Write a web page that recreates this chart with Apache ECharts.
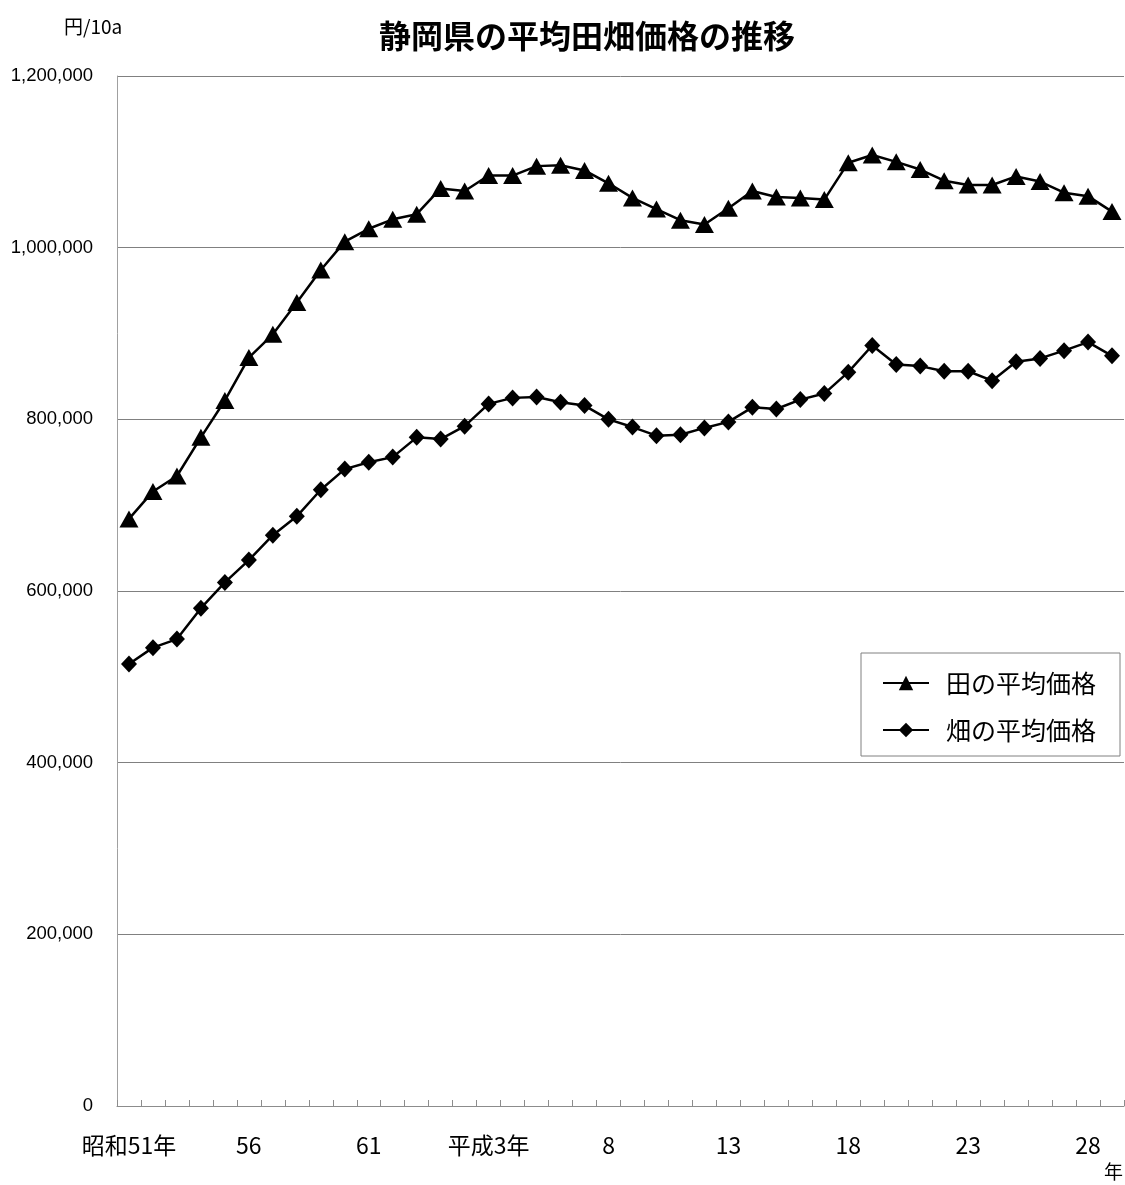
<!DOCTYPE html>
<html>
<head>
<meta charset="utf-8">
<script src="https://cdn.jsdelivr.net/npm/echarts@6/dist/echarts.min.js"></script>
<style>
html,body{margin:0;padding:0;background:#fff;}
#chart{width:1125px;height:1185px;}
</style>
</head>
<body>
<div id="chart"></div>
<script>
const categories = ['昭和51年','52','53','54','55','56','57','58','59','60','61','62','63','平成元年','2','平成3年','4','5','6','7','8','9','10','11','12','13','14','15','16','17','18','19','20','21','22','23','24','25','26','27','28','29'];
const paddyPrice = [684000,716000,734000,779000,822000,872000,899000,936000,974000,1007000,1022000,1033000,1039000,1069000,1066000,1084000,1084000,1095000,1096000,1090000,1075000,1058000,1045000,1032000,1027000,1046000,1066000,1059000,1058000,1056000,1099000,1108000,1100000,1091000,1078000,1073000,1073000,1083000,1077000,1064000,1060000,1042000];
const fieldPrice = [515000,534000,544000,580000,610000,636000,665000,687000,718000,742000,750000,756000,779000,777000,792000,818000,825000,826000,820000,816000,800000,791000,781000,782000,790000,797000,814000,812000,823000,830000,855000,886000,864000,862000,856000,856000,845000,867000,871000,880000,890000,874000];
const yTicks = {min:0, max:1200000, interval:200000};
const FONT = '"Noto Sans CJK JP", "Noto Sans", sans-serif';

const chart = echarts.init(document.getElementById('chart'));
chart.setOption({
  animation:false,
  backgroundColor:'#fff',
  title:{
    text:'静岡県の平均田畑価格の推移',
    left:374, top:15,
    textStyle:{fontFamily:FONT, fontSize:32, fontWeight:'bold', color:'#000'}
  },
  graphic:[
    {type:'text', left:64, top:17, style:{text:'円/10a', font:'19px '+FONT, fill:'#000'}},
    {type:'text', left:1104, top:1162, style:{text:'年', font:'19px '+FONT, fill:'#000'}}
  ],
  legend:{
    orient:'vertical',
    left:861, top:653,
    padding:[16,24,12,21],
    itemGap:19,
    itemWidth:46, itemHeight:18,
    borderColor:'#808080', borderWidth:1,
    backgroundColor:'#fff',
    textStyle:{fontFamily:FONT, fontSize:25, color:'#000', lineHeight:28, padding:[0,0,0,12]},
    data:['田の平均価格','畑の平均価格']
  },
  grid:{left:117, right:1, top:76, bottom:79, containLabel:false},
  xAxis:{
    type:'category',
    data:categories,
    boundaryGap:true,
    axisLine:{lineStyle:{color:'#8c8c8c', width:1}},
    axisTick:{show:true, inside:true, length:6, interval:0, lineStyle:{color:'#8c8c8c'}},
    axisLabel:{interval:4, margin:28, fontFamily:FONT, fontSize:23, color:'#000'},
    splitLine:{show:false}
  },
  yAxis:{
    type:'value',
    min:yTicks.min, max:yTicks.max, interval:yTicks.interval,
    axisLine:{show:true, lineStyle:{color:'#a0a0a0', width:1}},
    axisTick:{show:false},
    axisLabel:{margin:24, fontFamily:'"Liberation Sans", Arial, sans-serif', fontSize:18.5, color:'#000',
      formatter:v=>v.toLocaleString('en-US')},
    splitLine:{show:true, lineStyle:{color:'#808080', width:1}}
  },
  series:[
    {name:'田の平均価格', type:'line', data:paddyPrice,
      symbol:'triangle', symbolSize:[19,17], showAllSymbol:true,
      lineStyle:{color:'#000', width:2.5}, itemStyle:{color:'#000'}},
    {name:'畑の平均価格', type:'line', data:fieldPrice,
      symbol:'diamond', symbolSize:[16,17], showAllSymbol:true,
      lineStyle:{color:'#000', width:2.5}, itemStyle:{color:'#000'}}
  ]
});
</script>
</body>
</html>
